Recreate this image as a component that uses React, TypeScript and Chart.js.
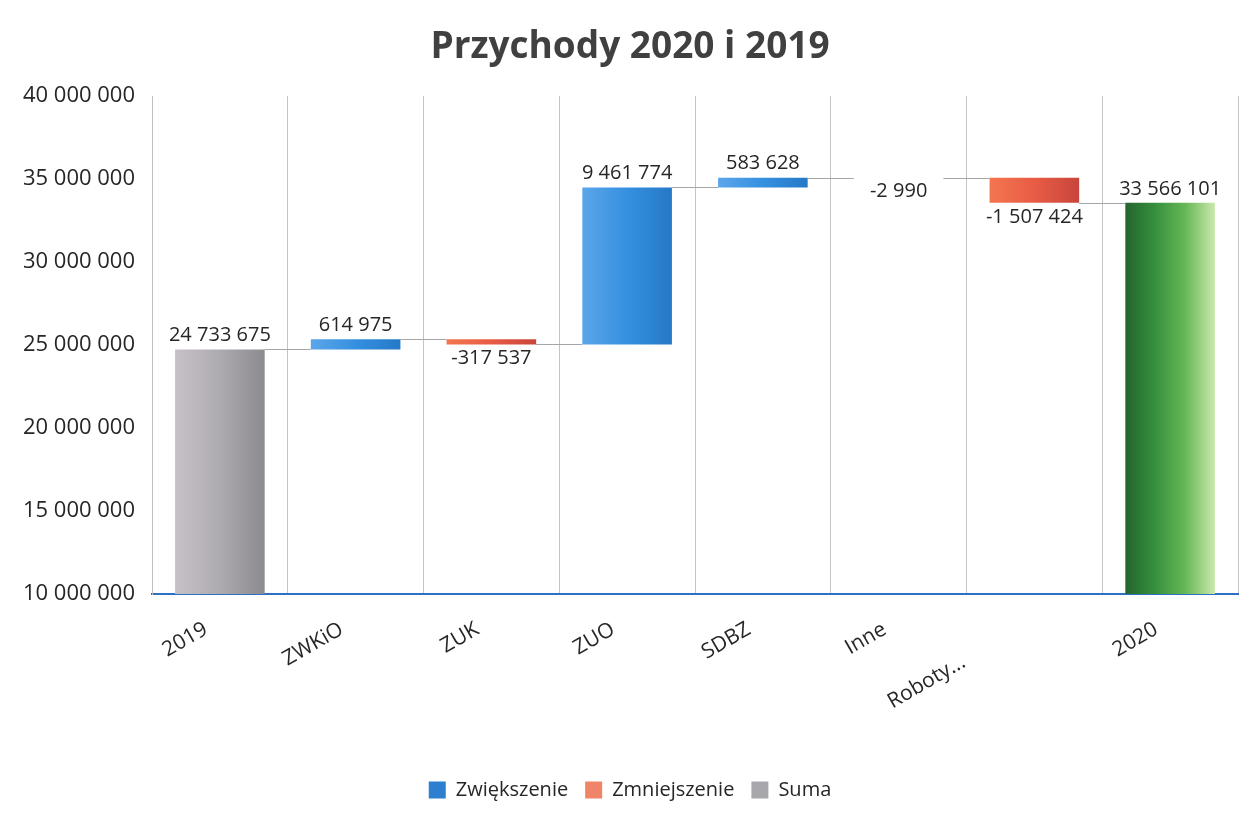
import React, { useEffect, useRef } from 'react';
import { Chart, registerables } from 'chart.js';

Chart.register(...registerables);

const FONT = "'Open Sans', 'DejaVu Sans', sans-serif";

// ---- data ----
const titleText = 'Przychody 2020 i 2019';
const categories = ['2019', 'ZWKiO', 'ZUK', 'ZUO', 'SDBZ', 'Inne', 'Roboty...', '2020'];
const changes = [24733675, 614975, -317537, 9461774, 583628, -2990, -1507424, 33566101];
const kinds = ['total', 'inc', 'dec', 'inc', 'inc', 'dec', 'dec', 'total'];
const seriesNames = ['Zwiększenie', 'Zmniejszenie', 'Suma'];
const yMin = 10000000;
const yMax = 40000000;
const yStep = 5000000;

// ---- style ----
const BAR_PCT = 0.66;
const LONG_LABEL = 'Roboty...';
const LONG_LABEL_PAD = 12;
const TEXT = '#262626';
const BLUE = ['#5ba6ea', '#3590e0', '#2579c6'];
const RED = ['#f3764f', '#e85c45', '#c8453c'];
const GRAY = ['#c6c1c6', '#aeabb0', '#8b8a8f'];
const GREEN = ['#24642f', '#35903d', '#66b856', '#cbe8ad'];
const LEGEND_COLORS = ['#2d7fcf', '#ef8468', '#a8a7ab'];

function fmt(n: number): string {
  return Math.round(n).toString().replace(/\B(?=(\d{3})+(?!\d))/g, ' ');
}

type Step = { low: number; high: number; level: number };
const steps: Step[] = (() => {
  let run = 0;
  return changes.map((v, i) => {
    if (kinds[i] === 'total') {
      run = v;
      return { low: 0, high: v, level: v };
    }
    const start = run;
    run += v;
    return { low: Math.min(start, run), high: Math.max(start, run), level: run };
  });
})();

function barGradient(ctx: any, stops: string[]) {
  const chart = ctx.chart;
  const area = chart.chartArea;
  const xs = chart.scales && chart.scales.x;
  if (!area || !xs || ctx.dataIndex === undefined) return stops[1];
  const cx = xs.getPixelForValue(ctx.dataIndex);
  const half = ((area.width / categories.length) * BAR_PCT) / 2;
  const g = chart.ctx.createLinearGradient(cx - half, 0, cx + half, 0);
  stops.forEach((c, i) => g.addColorStop(i / (stops.length - 1), c));
  return g;
}

const connectorPlugin = {
  id: 'wfConnectors',
  beforeDatasetsDraw(chart: any) {
    const { ctx, chartArea, scales } = chart;
    const xs = scales.x;
    const ys = scales.y;
    const half = ((chartArea.width / categories.length) * BAR_PCT) / 2;
    ctx.save();
    ctx.strokeStyle = '#a6a6a6';
    ctx.lineWidth = 1;
    for (let i = 0; i < steps.length - 1; i++) {
      const y = Math.round(ys.getPixelForValue(steps[i].level)) + 0.5;
      const x1 = xs.getPixelForValue(i) + half;
      const x2 = xs.getPixelForValue(i + 1) - half;
      ctx.beginPath();
      ctx.moveTo(x1, y);
      ctx.lineTo(x2, y);
      ctx.stroke();
    }
    ctx.restore();
  },
};

const labelPlugin = {
  id: 'wfLabels',
  afterDatasetsDraw(chart: any) {
    const { ctx, scales } = chart;
    const xs = scales.x;
    const ys = scales.y;
    ctx.save();
    ctx.font = `20px ${FONT}`;
    ctx.fillStyle = TEXT;
    ctx.textAlign = 'center';
    ctx.textBaseline = 'middle';
    steps.forEach((s, i) => {
      const x = xs.getPixelForValue(i);
      const text = fmt(changes[i]);
      if (kinds[i] === 'dec') {
        ctx.fillText(text, x, ys.getPixelForValue(s.low) + 14);
      } else {
        ctx.fillText(text, x, ys.getPixelForValue(s.high) - 14);
      }
    });
    ctx.restore();
  },
};

export default function App() {
  const ref = useRef<HTMLCanvasElement>(null);

  useEffect(() => {
    const canvas = ref.current;
    if (!canvas) return;

    const incData = steps.map((s, i) => (kinds[i] === 'inc' ? [s.low, s.high] : null));
    const decData = steps.map((s, i) => (kinds[i] === 'dec' ? [s.low, s.high] : null));
    const totData = steps.map((s, i) => (kinds[i] === 'total' ? changes[i] : null));

    const common = {
      grouped: false,
      barPercentage: BAR_PCT,
      categoryPercentage: 1,
      borderWidth: 0,
    };

    const chart = new Chart(canvas, {
      type: 'bar',
      data: {
        labels: categories,
        datasets: [
          {
            ...common,
            label: seriesNames[0],
            data: incData as any,
            backgroundColor: (c: any) => barGradient(c, BLUE),
          },
          {
            ...common,
            label: seriesNames[1],
            data: decData as any,
            backgroundColor: (c: any) => barGradient(c, RED),
          },
          {
            ...common,
            label: seriesNames[2],
            data: totData as any,
            backgroundColor: (c: any) =>
              barGradient(c, c.dataIndex === categories.length - 1 ? GREEN : GRAY),
          },
        ],
      },
      options: {
        animation: false,
        responsive: false,
        layout: { padding: { left: 22, right: 6, top: 0, bottom: 22 } },
        plugins: {
          title: {
            display: true,
            text: titleText,
            color: '#404040',
            font: { family: FONT, size: 37, weight: 'bold' },
            padding: { top: 25, bottom: 26.6 },
          },
          legend: {
            position: 'bottom',
            onClick: () => {},
            labels: {
              boxWidth: 17,
              boxHeight: 17,
              padding: 17,
              color: TEXT,
              font: { family: FONT, size: 20 },
              generateLabels: () =>
                seriesNames.map((t, i) => ({
                  text: t,
                  fillStyle: LEGEND_COLORS[i],
                  strokeStyle: LEGEND_COLORS[i],
                  lineWidth: 0,
                  hidden: false,
                  datasetIndex: i,
                  fontColor: TEXT,
                })),
            },
          },
          tooltip: { enabled: false },
        },
        scales: {
          x: {
            grid: { display: true, offset: true, color: '#c4c4c4', lineWidth: 1, drawTicks: false },
            border: { display: true, color: '#2f6fc4', width: 2 },
            ticks: {
              autoSkip: false,
              minRotation: 30,
              maxRotation: 30,
              padding: 23,
              labelOffset: -14,
              color: TEXT,
              font: { family: FONT, size: 21 },
              callback: (_v: any, index: number) => {
                const l = categories[index];
                return l === LONG_LABEL ? l + ' '.repeat(LONG_LABEL_PAD) : l;
              },
            },
            afterFit: (s: any) => {
              s.height = 169;
            },
          },
          y: {
            min: yMin,
            max: yMax,
            grid: { display: false, drawTicks: false },
            border: { display: true, color: '#bfbfbf', width: 1 },
            ticks: {
              stepSize: yStep,
              padding: 17,
              color: TEXT,
              font: { family: FONT, size: 22 },
              callback: (v: any) => fmt(Number(v)),
            },
            afterFit: (s: any) => {
              s.width = 130;
            },
          },
        },
      } as any,
      plugins: [connectorPlugin, labelPlugin],
    });

    return () => chart.destroy();
  }, []);

  return (
    <div
      style={{
        position: 'fixed',
        left: 0,
        top: 0,
        width: 1244,
        height: 832,
        background: '#ffffff',
      }}
    >
      <canvas ref={ref} width={1244} height={832} style={{ display: 'block', width: 1244, height: 832 }} />
    </div>
  );
}
